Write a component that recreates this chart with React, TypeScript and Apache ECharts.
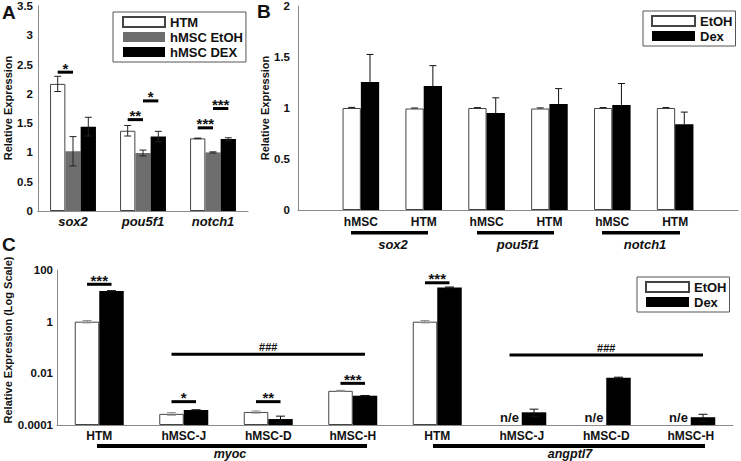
import React, { useEffect, useRef } from "react";
import * as echarts from "echarts";

const FONT = '"Liberation Sans", Arial, Helvetica, sans-serif';

// ---------- Panel A ----------
const genesA = ["sox2", "pou5f1", "notch1"];
const htmA = [2.17, 1.37, 1.24];
const htmErrA = [0.13, 0.09, 0.005];
const etohA = [1.02, 0.99, 1.0];
const etohErrA = [0.25, 0.05, 0.01];
const dexA = [1.44, 1.27, 1.23];
const dexErrA = [0.16, 0.09, 0.02];
const sigA = [
  { from: [0, 0], to: [0, 1], y: 2.37, text: "*" },
  { from: [1, 0], to: [1, 1], y: 1.56, text: "**" },
  { from: [1, 1], to: [1, 2], y: 1.88, text: "*" },
  { from: [2, 0], to: [2, 1], y: 1.42, text: "***" },
  { from: [2, 1], to: [2, 2], y: 1.75, text: "***" },
];

// ---------- Panel B ----------
const cellsB = ["", "hMSC", "HTM", "hMSC", "HTM", "hMSC", "HTM", ""];
const genesB = ["sox2", "pou5f1", "notch1"];
const etohB = [null, 1.0, 0.995, 1.0, 0.995, 1.0, 1.0, null];
const etohErrB = [0, 0.006, 0.005, 0.004, 0.006, 0.004, 0.004, 0];
const dexB = [null, 1.255, 1.215, 0.95, 1.04, 1.03, 0.84, null];
const dexErrB = [0, 0.27, 0.2, 0.15, 0.15, 0.21, 0.12, 0];

// ---------- Panel C ----------
const cellsC = ["HTM", "hMSC-J", "hMSC-D", "hMSC-H", "HTM", "hMSC-J", "hMSC-D", "hMSC-H"];
const genesC = ["myoc", "angptl7"];
const etohC = [1, 0.00027, 0.00032, 0.0021, 1, null, null, null];
const etohErrC = [0.1, 0.00003, 0.00003, 0.0001, 0.1, 0, 0, 0];
const dexC = [15.5, 0.00038, 0.00017, 0.00136, 21, 0.00031, 0.0068, 0.0002];
const dexErrC = [0.4, 0.00001, 0.00005, 0.00003, 1, 0.0001, 0.0003, 0.00006];
const tickLabelsC = ["0.0001", "0.01", "1", "100"];
const tickExpC = [-4, -2, 0, 2];
const sigC = [
  { from: [0, 0], to: [0, 1], y: 28, text: "***" },
  { from: [1, 0], to: [3, 1], y: 0.055, text: "###" },
  { from: [1, 0], to: [1, 1], y: 0.0008, text: "*" },
  { from: [2, 0], to: [2, 1], y: 0.0008, text: "**" },
  { from: [3, 0], to: [3, 1], y: 0.0041, text: "***" },
  { from: [4, 0], to: [4, 1], y: 32, text: "***" },
  { from: [5, 0], to: [7, 1], y: 0.051, text: "###" },
];

const BW_A = 15.3;
const BW_B = 18.3;
const BW_C = 24.5;

const axisLine = { show: true, lineStyle: { color: "#8a8a8a", width: 1 } };
const lblBold = { fontFamily: FONT, fontWeight: "bold", fontSize: 11, color: "#111" };

function errSeries(
  axis: number,
  vals: (number | null)[],
  errs: number[],
  off: number,
  cap: number,
  color: string,
  upperOnly: boolean
) {
  const data: number[][] = [];
  vals.forEach((v, i) => {
    if (v == null) return;
    data.push([i, upperOnly ? v : v - errs[i], v + errs[i]]);
  });
  return {
    type: "custom",
    xAxisIndex: axis,
    yAxisIndex: axis,
    z: 5,
    silent: true,
    data,
    encode: { x: 0, y: [1, 2] },
    renderItem: (params: any, api: any) => {
      const c = api.value(0);
      const lo = api.value(1);
      const hi = api.value(2);
      const p1 = api.coord([c, lo]);
      const p2 = api.coord([c, hi]);
      const x = p1[0] + off;
      const st = { stroke: color, lineWidth: 1 };
      const children: any[] = [
        { type: "line", shape: { x1: x, y1: p1[1], x2: x, y2: p2[1] }, style: st },
        { type: "line", shape: { x1: x - cap, y1: p2[1], x2: x + cap, y2: p2[1] }, style: st },
      ];
      if (!upperOnly) {
        children.push({ type: "line", shape: { x1: x - cap, y1: p1[1], x2: x + cap, y2: p1[1] }, style: st });
      }
      return { type: "group", children };
    },
  };
}

function sigSeries(axis: number, sig: any[], offFn: (b: number) => number) {
  return {
    type: "custom",
    xAxisIndex: axis,
    yAxisIndex: axis,
    z: 6,
    silent: true,
    data: sig.map((s) => [s.from[0], s.y]),
    renderItem: (params: any, api: any) => {
      const s = sig[params.dataIndex];
      const a = api.coord([s.from[0], s.y]);
      const b = api.coord([s.to[0], s.y]);
      const x1 = a[0] + offFn(s.from[1]);
      const x2 = b[0] + offFn(s.to[1]);
      const isHash = s.text.indexOf("#") >= 0;
      return {
        type: "group",
        children: [
          { type: "rect", shape: { x: x1, y: a[1] - 1.5, width: x2 - x1, height: 3 }, style: { fill: "#000" } },
          {
            type: "text",
            x: (x1 + x2) / 2,
            y: a[1] - (isHash ? 7 : 4),
            style: {
              text: s.text,
              font: `bold ${isHash ? 11 : 15}px ${FONT}`,
              fill: "#111",
              align: "center",
              verticalAlign: "middle",
              textAlign: "center",
              textVerticalAlign: "middle",
            },
          },
        ],
      };
    },
  };
}

function neSeries() {
  const data: number[][] = [];
  etohC.forEach((v, i) => {
    if (v == null) data.push([i, 0.0001]);
  });
  return {
    type: "custom",
    xAxisIndex: 2,
    yAxisIndex: 2,
    z: 6,
    silent: true,
    data,
    renderItem: (params: any, api: any) => {
      const p = api.coord([api.value(0), api.value(1)]);
      return {
        type: "text",
        x: p[0] - BW_C / 2,
        y: p[1] - 1,
        style: {
          text: "n/e",
          font: `bold 13px ${FONT}`,
          fill: "#111",
          align: "center",
          verticalAlign: "bottom",
          textAlign: "center",
          textVerticalAlign: "bottom",
        },
      };
    },
  };
}

function txt(x: number, y: number, text: string, font: string, rotation = 0, align = "center") {
  return {
    type: "text",
    x,
    y,
    rotation,
    silent: true,
    style: {
      text,
      font,
      fill: "#111",
      align,
      verticalAlign: "middle",
      textAlign: align,
      textVerticalAlign: "middle",
    },
  };
}

function bar(x: number, y: number, w: number, h: number) {
  return { type: "rect", silent: true, shape: { x, y, width: w, height: h }, style: { fill: "#000" } };
}

const legendBase = {
  orient: "vertical",
  icon: "rect",
  itemGap: 1,
  selectedMode: false,
  borderColor: "#555",
  borderWidth: 1,
  textStyle: { fontFamily: FONT, fontWeight: "bold", fontSize: 13, color: "#111", lineHeight: 14 },
};

export default function App() {
  const ref = useRef<HTMLDivElement>(null);
  useEffect(() => {
    if (!ref.current) return;
    const chart = echarts.init(ref.current, undefined, { renderer: "svg" });
    const whiteStyle = { color: "#fff", borderColor: "#444", borderWidth: 1 };
    const option: any = {
      animation: false,
      backgroundColor: "#fff",
      textStyle: { fontFamily: FONT },
      grid: [
        { left: 38, top: 5, width: 210, height: 206 },
        { left: 298, top: 5, width: 443, height: 205 },
        { left: 57, top: 270, width: 676, height: 155 },
      ],
      legend: [
        {
          ...legendBase,
          left: 113,
          top: 12,
          padding: [3, 3, 3, 9],
          itemWidth: 42,
          itemHeight: 10,
          data: ["HTM", "hMSC EtOH", "hMSC DEX"],
        },
        {
          ...legendBase,
          left: 643,
          top: 11,
          padding: [3, 3, 3, 8],
          itemWidth: 43,
          itemHeight: 10,
          data: ["EtOH", "Dex"],
        },
        {
          ...legendBase,
          left: 637,
          top: 277,
          padding: [3, 3, 3, 8],
          itemWidth: 43,
          itemHeight: 10,
          data: ["EtOH", "Dex"],
        },
      ],
      xAxis: [
        {
          gridIndex: 0,
          type: "category",
          data: genesA,
          axisLine,
          axisTick: { show: false },
          axisLabel: { ...lblBold, fontSize: 13, fontStyle: "italic", margin: 4, interval: 0 },
        },
        {
          gridIndex: 1,
          type: "category",
          data: cellsB,
          boundaryGap: false,
          axisLine,
          axisTick: { show: false },
          axisLabel: { ...lblBold, fontSize: 12, margin: 6, interval: 0 },
        },
        {
          gridIndex: 2,
          type: "category",
          data: cellsC,
          axisLine,
          axisTick: { show: false },
          axisLabel: { ...lblBold, fontSize: 12, margin: 5, interval: 0 },
        },
      ],
      yAxis: [
        {
          gridIndex: 0,
          type: "value",
          min: 0,
          max: 3.5,
          interval: 0.5,
          axisLine,
          axisTick: { show: false },
          splitLine: { show: false },
          axisLabel: { ...lblBold, fontSize: 11.5, margin: 5 },
        },
        {
          gridIndex: 1,
          type: "value",
          min: 0,
          max: 2,
          interval: 0.5,
          axisLine,
          axisTick: { show: false },
          splitLine: { show: false },
          axisLabel: { ...lblBold, fontSize: 11.5, margin: 8 },
        },
        {
          gridIndex: 2,
          type: "log",
          logBase: 10,
          min: 0.0001,
          max: 100,
          interval: 2,
          startValue: 0.0001,
          axisLine,
          axisTick: { show: false },
          splitLine: { show: false },
          axisLabel: {
            ...lblBold,
            fontSize: 11.5,
            margin: 4,
            formatter: (v: number) => {
              const e = Math.round(Math.log10(v));
              const k = tickExpC.indexOf(e);
              return k >= 0 ? tickLabelsC[k] : "";
            },
          },
        },
      ],
      series: [
        // Panel A
        { name: "HTM", type: "bar", xAxisIndex: 0, yAxisIndex: 0, data: htmA, barWidth: BW_A, barGap: "0%", itemStyle: whiteStyle },
        { name: "hMSC EtOH", type: "bar", xAxisIndex: 0, yAxisIndex: 0, data: etohA, barWidth: BW_A, barGap: "0%", itemStyle: { color: "#6e6e6e" } },
        { name: "hMSC DEX", type: "bar", xAxisIndex: 0, yAxisIndex: 0, data: dexA, barWidth: BW_A, barGap: "0%", itemStyle: { color: "#000" } },
        errSeries(0, htmA, htmErrA, -BW_A, 3.5, "#222", false),
        errSeries(0, etohA, etohErrA, 0, 3.5, "#222", false),
        errSeries(0, dexA, dexErrA, BW_A, 3.5, "#222", false),
        sigSeries(0, sigA, (b) => (b - 1) * BW_A),
        // Panel B
        { name: "EtOH", type: "bar", xAxisIndex: 1, yAxisIndex: 1, data: etohB, barWidth: BW_B, barGap: "0%", itemStyle: whiteStyle },
        { name: "Dex", type: "bar", xAxisIndex: 1, yAxisIndex: 1, data: dexB, barWidth: BW_B, barGap: "0%", itemStyle: { color: "#000" } },
        errSeries(1, etohB, etohErrB, -BW_B / 2, 3.5, "#111", true),
        errSeries(1, dexB, dexErrB, BW_B / 2, 3.5, "#111", true),
        // Panel C
        { name: "EtOH", type: "bar", xAxisIndex: 2, yAxisIndex: 2, data: etohC, barWidth: BW_C, barGap: "0%", itemStyle: whiteStyle },
        { name: "Dex", type: "bar", xAxisIndex: 2, yAxisIndex: 2, data: dexC, barWidth: BW_C, barGap: "0%", itemStyle: { color: "#000" } },
        errSeries(2, etohC, etohErrC, -BW_C / 2, 4.5, "#8a8a8a", false),
        errSeries(2, dexC, dexErrC, BW_C / 2, 4.5, "#111", false),
        sigSeries(2, sigC, (b) => (b - 0.5) * BW_C),
        neSeries(),
      ],
      graphic: [
        txt(2, 12, "A", `bold 19px ${FONT}`, 0, "left"),
        txt(257, 11, "B", `bold 19px ${FONT}`, 0, "left"),
        txt(2, 244, "C", `bold 19px ${FONT}`, 0, "left"),
        txt(8, 108, "Relative Expression", `bold 11px ${FONT}`, Math.PI / 2),
        txt(265, 108, "Relative Expression", `bold 11px ${FONT}`, Math.PI / 2),
        txt(8, 340, "Relative Expression (Log Scale)", `bold 11px ${FONT}`, Math.PI / 2),
        bar(351, 231, 77, 3.5),
        bar(477, 231, 77, 3.5),
        bar(602, 231, 78, 3.5),
        txt(393, 244, genesB[0], `italic bold 13px ${FONT}`),
        txt(518, 244, genesB[1], `italic bold 13px ${FONT}`),
        txt(645, 244, genesB[2], `italic bold 13px ${FONT}`),
        bar(97, 444, 270, 4),
        bar(433, 444, 272, 4),
        txt(230, 454, genesC[0], `italic bold 12.5px ${FONT}`),
        txt(570, 454, genesC[1], `italic bold 12.5px ${FONT}`),
      ],
    };
    chart.setOption(option);
    return () => chart.dispose();
  }, []);
  return <div ref={ref} style={{ width: 741, height: 461, position: "absolute", left: 0, top: 0 }} />;
}
